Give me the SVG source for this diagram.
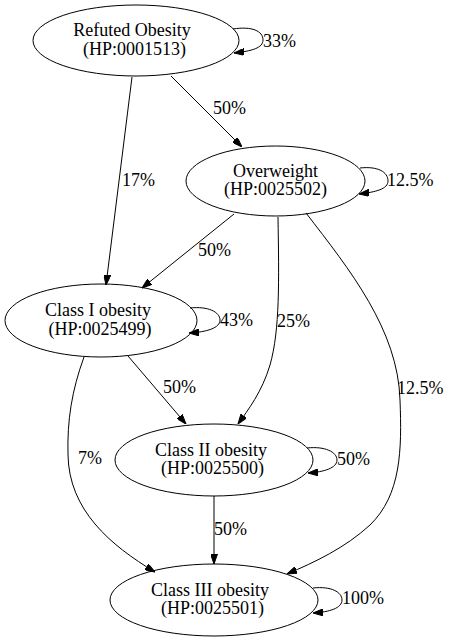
<svg xmlns="http://www.w3.org/2000/svg" width="451" height="641" viewBox="0 0 451 641">
<defs>
<style>
text{font-family:"Liberation Serif","Times New Roman",serif;font-size:18px;fill:#000}
.n text{text-anchor:middle}
ellipse{fill:none;stroke:#000;stroke-width:1}
.e path{fill:none;stroke:#000;stroke-width:1;marker-end:url(#ah)}
</style>
<marker id="ah" viewBox="0 0 10 7" refX="10" refY="3.5" markerWidth="10" markerHeight="7" markerUnits="userSpaceOnUse" orient="auto">
<path d="M0,0 L10,3.5 L0,7 z" fill="#000" stroke="#000"/>
</marker>
</defs>
<rect width="451" height="641" fill="#fff"/>
<g id="edges" class="e">
<path d="M171,76 L242,147"/>
<path d="M132,77 L106,285"/>
<path d="M234,214 L142,288"/>
<path d="M278,217 C279,280 280,330 270,365 C262,392 248,410 238,424"/>
<path d="M306,213 C350,270 398,330 400,400 C402,450 401,495 370,525 C345,548 315,562 287,574"/>
<path d="M128,356 L186,424"/>
<path d="M84,357 C72,390 67,420 68,455 C69,510 110,545 155,572"/>
<path d="M214,496 L214,564"/>
<path d="M233,29 C252,26 263,31 263,40 C263,48 252,51 234,53"/>
<path d="M360,168 C378,166 388,172 388,181 C388,189 376,192 359,194"/>
<path d="M190,308 C208,306 220,312 220,320 C220,328 207,332 189,333"/>
<path d="M307,448 C325,446 337,452 337,460 C337,468 324,472 308,473"/>
<path d="M313,588 C331,586 342,592 342,600 C342,608 330,612 313,613"/>
</g>
<g id="edge-labels">
<text x="213" y="114">50%</text>
<text x="122" y="186">17%</text>
<text x="263" y="47">33%</text>
<text x="387" y="186">12.5%</text>
<text x="198" y="256">50%</text>
<text x="220" y="326">43%</text>
<text x="277" y="327">25%</text>
<text x="397" y="394">12.5%</text>
<text x="163" y="393">50%</text>
<text x="78" y="464">7%</text>
<text x="337" y="465">50%</text>
<text x="214" y="535">50%</text>
<text x="342" y="604">100%</text>
</g>
<g id="n1" class="n">
<ellipse cx="136" cy="40.5" rx="103" ry="35.5"/>
<text x="132" y="36">Refuted Obesity</text>
<text x="134.5" y="55">(HP:0001513)</text>
</g>
<g id="n2" class="n">
<ellipse cx="275.5" cy="181" rx="89.5" ry="35"/>
<text x="275.5" y="176.5">Overweight</text>
<text x="275.5" y="195">(HP:0025502)</text>
</g>
<g id="n3" class="n">
<ellipse cx="101" cy="320.5" rx="96" ry="36.5"/>
<text x="98" y="316">Class I obesity</text>
<text x="100" y="334.5">(HP:0025499)</text>
</g>
<g id="n4" class="n">
<ellipse cx="214" cy="460" rx="99" ry="36"/>
<text x="211" y="455.5">Class II obesity</text>
<text x="212.5" y="474">(HP:0025500)</text>
</g>
<g id="n5" class="n">
<ellipse cx="214" cy="600" rx="104" ry="36"/>
<text x="210" y="595.5">Class III obesity</text>
<text x="212.5" y="614">(HP:0025501)</text>
</g>
</svg>
